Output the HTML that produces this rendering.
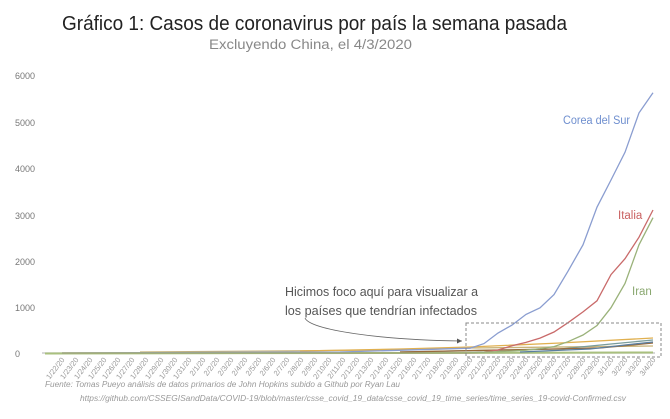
<!DOCTYPE html>
<html><head><meta charset="utf-8"><style>
body{margin:0;background:#fff;width:670px;height:419px;overflow:hidden}
svg{display:block;font-family:"Liberation Sans",sans-serif}
</style></head><body>
<svg width="670" height="419" viewBox="0 0 670 419">
<text x="62" y="30" font-size="20" fill="#222" textLength="505" lengthAdjust="spacingAndGlyphs">Gráfico 1: Casos de coronavirus por país la semana pasada</text>
<text x="209" y="49" font-size="13.5" fill="#888" textLength="203" lengthAdjust="spacingAndGlyphs">Excluyendo China, el 4/3/2020</text>
<g font-size="9" fill="#777">
<text x="15" y="79">6000</text><text x="15" y="126">5000</text><text x="15" y="172">4000</text>
<text x="15" y="219">3000</text><text x="15" y="265">2000</text><text x="15" y="311">1000</text>
<text x="15" y="357">0</text>
</g>
<line x1="42" y1="353" x2="655" y2="353" stroke="#ccc" stroke-width="1.5"/>
<g fill="none" stroke-width="1.3">
<polyline stroke="#a9c07e" stroke-width="2" points="45,353.5 653,352.5"/>
<polyline stroke="#c9b47a" points="140,352 400,350 470,348 653,346"/>
<polyline stroke="#7a9c9a" points="400,352 560,349 611,344 653,340"/>
<polyline stroke="#9a6a3a" points="400,352 600,348 653,343"/>
<polyline stroke="#e0b050" points="300,351 400,349 470,347 560,343 653,338"/>
<polyline stroke="#5b7fa0" points="520,352 590,349 625,345 653,342"/>
<polyline stroke="#8a9dd0" points="62,353 340,352 470,348.2 484,343.6 498,333 512,325.1 526,314.4 540,307.8 554,294.6 568,271.2 583,244.8 597,207.2 611,180 625,152.3 639,112.9 653,92.8"/>
<polyline stroke="#c96a6a" points="62,353 470,353 484,352 498,350 512,345.8 526,342.4 540,338.1 554,332 568,322.7 583,311.9 597,300.8 611,274.6 625,258.7 639,237.2 653,210"/>
<polyline stroke="#9ab27a" points="62,353 456,353 470,352.8 484,352.2 498,351.7 512,351 526,350.2 540,348.6 554,346.6 568,341.7 583,335 597,325.5 611,307.7 625,283.5 639,244.8 653,217.7"/>
</g>
<rect x="466" y="323" width="195" height="34" fill="none" stroke="#888" stroke-dasharray="3,2"/>
<path d="M305,318 C310,330 380,340 462,341" fill="none" stroke="#666" stroke-width="0.8"/>
<path d="M462,341 l-5,-2.5 l0,5 z" fill="#555"/>
<g font-size="12.5" fill="#555">
<text x="285" y="296" textLength="193" lengthAdjust="spacingAndGlyphs">Hicimos foco aquí para visualizar a</text>
<text x="285" y="315" textLength="192" lengthAdjust="spacingAndGlyphs">los países que tendrían infectados</text>
</g>
<text x="563" y="124" font-size="11.5" fill="#6f8fcf" textLength="67" lengthAdjust="spacingAndGlyphs">Corea del Sur</text>
<text x="618" y="219" font-size="11.5" fill="#c96060">Italia</text>
<text x="632" y="295" font-size="11.5" fill="#8aa870">Iran</text>
<g font-size="7.5" fill="#999" text-anchor="end">
<text transform="translate(65,360) rotate(-52)">1/22/20</text>
<text transform="translate(79,360) rotate(-52)">1/23/20</text>
<text transform="translate(93,360) rotate(-52)">1/24/20</text>
<text transform="translate(107,360) rotate(-52)">1/25/20</text>
<text transform="translate(121,360) rotate(-52)">1/26/20</text>
<text transform="translate(135,360) rotate(-52)">1/27/20</text>
<text transform="translate(149,360) rotate(-52)">1/28/20</text>
<text transform="translate(164,360) rotate(-52)">1/29/20</text>
<text transform="translate(178,360) rotate(-52)">1/30/20</text>
<text transform="translate(192,360) rotate(-52)">1/31/20</text>
<text transform="translate(206,360) rotate(-52)">2/1/20</text>
<text transform="translate(220,360) rotate(-52)">2/2/20</text>
<text transform="translate(234,360) rotate(-52)">2/3/20</text>
<text transform="translate(248,360) rotate(-52)">2/4/20</text>
<text transform="translate(262,360) rotate(-52)">2/5/20</text>
<text transform="translate(276,360) rotate(-52)">2/6/20</text>
<text transform="translate(290,360) rotate(-52)">2/7/20</text>
<text transform="translate(304,360) rotate(-52)">2/8/20</text>
<text transform="translate(318,360) rotate(-52)">2/9/20</text>
<text transform="translate(332,360) rotate(-52)">2/10/20</text>
<text transform="translate(346,360) rotate(-52)">2/11/20</text>
<text transform="translate(360,360) rotate(-52)">2/12/20</text>
<text transform="translate(374,360) rotate(-52)">2/13/20</text>
<text transform="translate(389,360) rotate(-52)">2/14/20</text>
<text transform="translate(403,360) rotate(-52)">2/15/20</text>
<text transform="translate(417,360) rotate(-52)">2/16/20</text>
<text transform="translate(431,360) rotate(-52)">2/17/20</text>
<text transform="translate(445,360) rotate(-52)">2/18/20</text>
<text transform="translate(459,360) rotate(-52)">2/19/20</text>
<text transform="translate(473,360) rotate(-52)">2/20/20</text>
<text transform="translate(487,360) rotate(-52)">2/21/20</text>
<text transform="translate(501,360) rotate(-52)">2/22/20</text>
<text transform="translate(515,360) rotate(-52)">2/23/20</text>
<text transform="translate(529,360) rotate(-52)">2/24/20</text>
<text transform="translate(543,360) rotate(-52)">2/25/20</text>
<text transform="translate(557,360) rotate(-52)">2/26/20</text>
<text transform="translate(571,360) rotate(-52)">2/27/20</text>
<text transform="translate(586,360) rotate(-52)">2/28/20</text>
<text transform="translate(600,360) rotate(-52)">2/29/20</text>
<text transform="translate(614,360) rotate(-52)">3/1/20</text>
<text transform="translate(628,360) rotate(-52)">3/2/20</text>
<text transform="translate(642,360) rotate(-52)">3/3/20</text>
<text transform="translate(656,360) rotate(-52)">3/4/20</text>
</g>
<g font-size="8" fill="#999" font-style="italic">
<text x="45" y="387" textLength="355" lengthAdjust="spacingAndGlyphs">Fuente: Tomas Pueyo análisis de datos primarios de John Hopkins subido a Github por Ryan Lau</text>
<text x="80" y="401" textLength="546" lengthAdjust="spacingAndGlyphs">https://github.com/CSSEGISandData/COVID-19/blob/master/csse_covid_19_data/csse_covid_19_time_series/time_series_19-covid-Confirmed.csv</text>
</g>
</svg>
</body></html>
